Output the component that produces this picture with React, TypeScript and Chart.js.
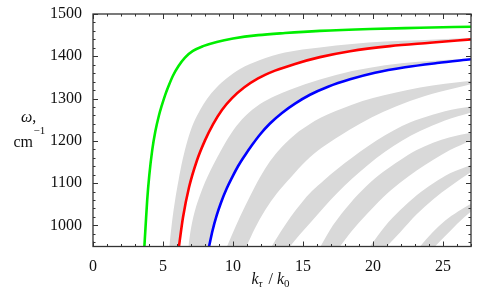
import React, { useEffect, useRef } from "react";
import { Chart, registerables } from "chart.js";

Chart.register(...registerables);

type P = [number, number];

// axis ranges and tick labels
const xRange: P = [0, 27];
const yRange: P = [950, 1500];
const xTickLabels = [0, 5, 10, 15, 20, 25];
const yTickLabels = [1000, 1100, 1200, 1300, 1400, 1500];
const xMinorStep = 1;
const yMinorStep = 20;

// coloured dispersion curves [k/k0, omega]
const greenCurve: P[] = [
  [3.67, 950], [3.76, 1000], [3.87, 1059], [4.02, 1118], [4.23, 1178], [4.45, 1222],
  [4.71, 1260], [4.91, 1283], [5.14, 1307], [5.39, 1329], [5.71, 1354], [6.11, 1377],
  [6.57, 1397], [7.14, 1412.6], [7.86, 1424], [8.84, 1434], [10.0, 1442], [11.79, 1450],
  [13.71, 1455], [16.21, 1460], [19.79, 1464.5], [23.36, 1467.3], [27, 1470],
];
const redCurve: P[] = [
  [6.14, 950], [6.43, 1019], [6.86, 1090], [7.43, 1154], [8.0, 1201], [8.57, 1239],
  [9.21, 1273], [9.93, 1301], [10.79, 1326], [11.79, 1347.6], [13.0, 1366], [14.43, 1382],
  [16.21, 1398], [18.36, 1412], [21.21, 1424], [24.07, 1432], [27, 1440],
];
const blueCurve: P[] = [
  [8.29, 950], [8.54, 988], [8.84, 1024], [9.14, 1053.6], [9.55, 1087], [9.93, 1113],
  [10.38, 1141], [10.86, 1166], [11.36, 1190], [11.93, 1215], [12.64, 1241], [13.5, 1266],
  [14.43, 1288], [15.5, 1309], [16.79, 1328], [18.36, 1345.5], [20.14, 1361], [22.29, 1374],
  [24.57, 1384], [27, 1393],
];

// gray bands: upper-left edges and lower-right edges [k/k0, omega]
const band1Upper: P[] = [
  [5.45, 950], [5.64, 1007], [5.86, 1059], [6.11, 1107], [6.39, 1154], [6.75, 1201],
  [7.18, 1242], [7.64, 1272.5], [8.14, 1299], [8.79, 1325], [9.55, 1348], [10.5, 1370],
  [11.93, 1391], [13.71, 1409], [16.21, 1421], [18.5, 1429], [20.86, 1435], [23.36, 1438],
  [27, 1443],
];
const band2Upper: P[] = [
  [6.81, 950], [7.0, 993], [7.29, 1035.5], [7.64, 1071], [8.0, 1102], [8.39, 1130],
  [8.84, 1159], [9.36, 1190], [10.02, 1225], [10.86, 1258], [11.93, 1287], [13.0, 1306],
  [14.07, 1321], [16.21, 1345], [18.5, 1365], [20.86, 1379], [23.21, 1387], [27, 1395],
];
const band3Upper: P[] = [
  [9.57, 950], [10.21, 999], [10.86, 1045], [11.57, 1092], [12.29, 1134], [13.0, 1167],
  [13.71, 1193], [14.5, 1217], [15.36, 1237], [16.29, 1255], [17.29, 1270], [18.5, 1285.5],
  [20.0, 1301], [21.57, 1314], [23.36, 1326], [25.14, 1335], [27, 1342],
];
const band3Lower: P[] = [
  [10.96, 950], [11.57, 993], [12.29, 1035.5], [13.14, 1076], [14.14, 1114], [15.21, 1152],
  [16.36, 1184], [17.64, 1212], [19.07, 1240.5], [20.71, 1268], [22.64, 1294], [24.79, 1316],
  [27, 1334],
];
const band4Upper: P[] = [
  [12.76, 950], [13.43, 986], [14.14, 1021], [14.86, 1052], [15.64, 1081], [16.5, 1107],
  [17.43, 1133], [18.5, 1160], [19.64, 1187], [20.86, 1213], [22.07, 1235], [23.36, 1252],
  [25.14, 1270], [27, 1281],
];
const band4Lower: P[] = [
  [14.07, 950], [14.79, 979], [15.62, 1009.5], [16.5, 1043], [17.43, 1076], [18.5, 1110],
  [19.64, 1143], [20.86, 1174], [22.07, 1200], [23.36, 1223], [25.14, 1248], [27, 1267],
];
const band5Upper: P[] = [
  [16.25, 950], [17.14, 1000], [18.36, 1052], [19.5, 1092], [20.71, 1126], [21.93, 1154],
  [23.12, 1178], [24.29, 1195.5], [25.5, 1208.5], [27, 1219],
];
const band5Lower: P[] = [
  [17.64, 950], [18.5, 987], [19.55, 1026], [20.71, 1066], [21.93, 1101], [23.12, 1130],
  [24.31, 1155], [25.5, 1178], [27, 1201],
];
const band6Upper: P[] = [
  [19.79, 950], [20.86, 998], [21.93, 1035.5], [23.12, 1071], [24.31, 1099.5], [25.5, 1123],
  [27, 1143],
];
const band6Lower: P[] = [
  [20.98, 950], [21.93, 983], [23.12, 1026], [24.31, 1062], [25.5, 1092], [27, 1126],
];
const band7Upper: P[] = [[23.36, 950], [24.21, 982], [25.14, 1011], [26.07, 1033], [27, 1051]];
const band7Lower: P[] = [[24.43, 950], [25.14, 974], [26.0, 1003.5], [27, 1033]];

const toPts = (arr: P[]) => arr.map(([x, y]) => ({ x, y }));

const SERIF = "'Liberation Serif', 'Times New Roman', serif";
const GRAY = "#d9d9d9";
const WHITE = "#ffffff";
const FRAME = "#333333";
const TEXT = "#111111";

const framePlugin = {
  id: "framePlugin",
  afterDatasetsDraw(chart: any) {
    const { ctx, chartArea: a, scales } = chart;
    const xs = scales.x;
    const ys = scales.y;
    ctx.save();
    ctx.strokeStyle = FRAME;
    ctx.lineWidth = 1;
    ctx.beginPath();
    const maj = 5, min = 2.5;
    for (let v = xRange[0]; v <= xRange[1] + 1e-9; v += xMinorStep) {
      const len = xTickLabels.includes(v) ? maj : min;
      const px = Math.round(xs.getPixelForValue(v)) + 0.5;
      ctx.moveTo(px, a.bottom);
      ctx.lineTo(px, a.bottom - len);
      ctx.moveTo(px, a.top);
      ctx.lineTo(px, a.top + len);
    }
    for (let v = yRange[0] + 10; v <= yRange[1] + 1e-9; v += yMinorStep) {
      const len = yTickLabels.includes(v) ? maj : min;
      const py = Math.round(ys.getPixelForValue(v)) + 0.5;
      ctx.moveTo(a.left, py);
      ctx.lineTo(a.left + len, py);
      ctx.moveTo(a.right, py);
      ctx.lineTo(a.right - len, py);
    }
    ctx.stroke();
    ctx.lineWidth = 1.3;
    ctx.strokeRect(a.left, a.top, a.right - a.left, a.bottom - a.top);
    ctx.restore();
  },
  afterDraw(chart: any) {
    const { ctx } = chart;
    ctx.save();
    ctx.fillStyle = TEXT;
    ctx.textAlign = "left";
    ctx.textBaseline = "alphabetic";
    // y-axis title
    ctx.font = `italic 16px ${SERIF}`;
    const wOm = ctx.measureText("ω").width;
    ctx.fillText("ω", 21, 121.5);
    ctx.font = `16px ${SERIF}`;
    ctx.fillText(",", 21 + wOm, 121.5);
    ctx.fillText("cm", 13.5, 146.5);
    const wCm = ctx.measureText("cm").width;
    ctx.font = `11px ${SERIF}`;
    ctx.fillText("−1", 13.5 + wCm + 0.5, 134);
    // x-axis title
    let x = 251.5;
    const base = 283.5;
    ctx.font = `italic 16px ${SERIF}`;
    ctx.fillText("k", x, base);
    x += ctx.measureText("k").width;
    ctx.font = `italic 11px ${SERIF}`;
    ctx.fillText("τ", x, base + 3.5);
    x += ctx.measureText("τ").width + 6;
    ctx.font = `16px ${SERIF}`;
    ctx.fillText("/", x, base);
    x += ctx.measureText("/").width + 4;
    ctx.font = `italic 16px ${SERIF}`;
    ctx.fillText("k", x, base);
    x += ctx.measureText("k").width;
    ctx.font = `11px ${SERIF}`;
    ctx.fillText("0", x, base + 3.5);
    ctx.restore();
  },
};

export default function App() {
  const ref = useRef<HTMLCanvasElement | null>(null);
  useEffect(() => {
    if (!ref.current) return;
    const line = (data: P[], color: string) => ({
      data: toPts(data),
      borderColor: color,
      backgroundColor: color,
      borderWidth: 2.6,
      pointRadius: 0,
      cubicInterpolationMode: "monotone",
      fill: false,
    });
    // region under an edge, painted in sequence (gray under upper edge, white under lower edge)
    const under = (data: P[], color: string) => ({
      data: toPts(data),
      borderColor: "rgba(0,0,0,0)",
      backgroundColor: color,
      borderWidth: 0,
      pointRadius: 0,
      cubicInterpolationMode: "monotone",
      fill: "start",
    });
    // the filler paints from the last dataset to the first
    const fills = [
      under(band1Upper, GRAY),
      under(redCurve, WHITE),
      under(band2Upper, GRAY),
      under(blueCurve, WHITE),
      under(band3Upper, GRAY),
      under(band3Lower, WHITE),
      under(band4Upper, GRAY),
      under(band4Lower, WHITE),
      under(band5Upper, GRAY),
      under(band5Lower, WHITE),
      under(band6Upper, GRAY),
      under(band6Lower, WHITE),
      under(band7Upper, GRAY),
      under(band7Lower, WHITE),
    ].reverse();
    const chart = new Chart(ref.current, {
      type: "line",
      data: {
        datasets: [
          line(greenCurve, "#00ee00"),
          line(redCurve, "#ff0000"),
          line(blueCurve, "#0000ff"),
          ...fills,
        ] as any,
      },
      options: {
        animation: false,
        responsive: false,
        events: [],
        layout: { padding: { left: 0, right: 14, top: 14, bottom: 0 } },
        plugins: {
          legend: { display: false },
          tooltip: { enabled: false },
          filler: { drawTime: "beforeDatasetsDraw", propagate: false },
        },
        scales: {
          x: {
            type: "linear",
            min: xRange[0],
            max: xRange[1],
            grid: { display: false },
            border: { display: false },
            afterBuildTicks: (s: any) => {
              s.ticks = xTickLabels.map((v) => ({ value: v }));
            },
            afterFit: (s: any) => {
              s.height = 47.5;
            },
            ticks: {
              autoSkip: false,
              maxRotation: 0,
              padding: 3,
              color: TEXT,
              font: { family: SERIF, size: 16 },
              callback: (v: any) => String(v),
            },
          },
          y: {
            type: "linear",
            min: yRange[0],
            max: yRange[1],
            grid: { display: false },
            border: { display: false },
            afterBuildTicks: (s: any) => {
              s.ticks = yTickLabels.map((v) => ({ value: v }));
            },
            afterFit: (s: any) => {
              s.width = 93;
            },
            ticks: {
              autoSkip: false,
              padding: 3,
              color: TEXT,
              font: { family: SERIF, size: 16 },
              callback: (v: any) => String(v),
            },
          },
        },
      } as any,
      plugins: [framePlugin],
    });
    return () => chart.destroy();
  }, []);
  return (
    <div style={{ position: "fixed", left: 0, top: 0, width: 485, height: 294, background: "#fff" }}>
      <canvas ref={ref} width={485} height={294} style={{ display: "block" }} />
    </div>
  );
}
